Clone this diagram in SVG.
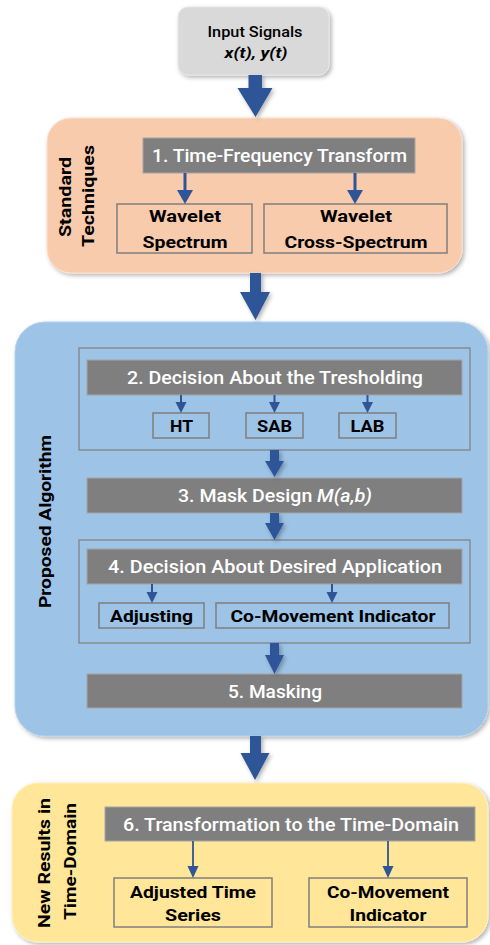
<svg xmlns="http://www.w3.org/2000/svg" width="490" height="945" viewBox="0 0 490 945">
<defs>
<filter id="sh" x="-10%" y="-10%" width="125%" height="125%">
<feDropShadow dx="2" dy="2" stdDeviation="2" flood-color="#000" flood-opacity="0.3"/>
</filter>
</defs>
<style>
.step{fill:#7F7F7F;stroke:#A6A6A6;stroke-width:1}
.wt{font-family:Roboto,"Liberation Sans",sans-serif;font-size:18px;font-weight:500;fill:#FFFFFF;text-anchor:middle}
.bt{font-family:Roboto,"Liberation Sans",sans-serif;font-size:17px;font-weight:bold;fill:#000;text-anchor:middle}
.lab{font-family:Roboto,"Liberation Sans",sans-serif;font-size:17px;font-weight:bold;fill:#000;text-anchor:middle}
.out{fill:none;stroke:#7F7F7F;stroke-width:1.5}
.grp{fill:none;stroke:#7F7F7F;stroke-width:1.2}
.arr{fill:#2F5597}
.ln{stroke:#2F5597;fill:none}
</style>

<!-- Input -->
<g id="input">
<rect x="178" y="7" width="151" height="68" rx="10" fill="#D9D9D9" stroke="#E6E6E6" filter="url(#sh)"/>
<text x="255" y="37" font-family="Roboto,'Liberation Sans',sans-serif" font-size="14" font-weight="500" text-anchor="middle" textLength="95" lengthAdjust="spacingAndGlyphs">Input Signals</text>
<text x="256" y="58" font-family="Roboto,'Liberation Sans',sans-serif" font-size="15" font-weight="bold" font-style="italic" text-anchor="middle" textLength="63" lengthAdjust="spacingAndGlyphs">x(t), y(t)</text>
</g>

<!-- Standard techniques panel -->
<g id="standard">
<rect x="47" y="118" width="415" height="155" rx="24" fill="#F8CBAD" stroke="#FBE0CF" filter="url(#sh)"/>
<text transform="translate(71,197) rotate(-90)" class="lab" textLength="80" lengthAdjust="spacingAndGlyphs">Standard</text>
<text transform="translate(94,196) rotate(-90)" class="lab" textLength="102" lengthAdjust="spacingAndGlyphs">Techniques</text>
</g>
<g id="step1">
<rect class="step" x="143" y="138" width="272" height="35"/>
<text class="wt" x="279.5" y="162" textLength="255" lengthAdjust="spacingAndGlyphs">1. Time-Frequency Transform</text>
</g>
<g id="wavelet-spectrum">
<rect class="out" x="117" y="204" width="135" height="49"/>
<text class="bt" x="185" y="222" textLength="72" lengthAdjust="spacingAndGlyphs">Wavelet</text>
<text class="bt" x="185" y="248" textLength="85" lengthAdjust="spacingAndGlyphs">Spectrum</text>
</g>
<g id="wavelet-cross">
<rect class="out" x="264" y="204" width="183" height="49"/>
<text class="bt" x="356" y="222" textLength="72" lengthAdjust="spacingAndGlyphs">Wavelet</text>
<text class="bt" x="356" y="248" textLength="143" lengthAdjust="spacingAndGlyphs">Cross-Spectrum</text>
</g>

<!-- Proposed algorithm panel -->
<g id="proposed">
<rect x="15" y="322" width="473" height="414" rx="30" fill="#9DC3E6" stroke="#B4D2EE" filter="url(#sh)"/>
<text transform="translate(51,521.5) rotate(-90)" class="lab" textLength="173" lengthAdjust="spacingAndGlyphs">Proposed Algorithm</text>
</g>
<g id="group2">
<rect class="grp" x="79" y="348" width="391" height="102"/>
</g>
<g id="step2">
<rect class="step" x="87" y="360" width="375" height="35"/>
<text class="wt" x="275" y="384" textLength="296" lengthAdjust="spacingAndGlyphs">2. Decision About the Tresholding</text>
</g>
<g id="ht">
<rect class="out" x="153" y="413" width="56" height="25"/>
<text class="bt" x="181.5" y="431.5" font-size="16" textLength="23" lengthAdjust="spacingAndGlyphs">HT</text>
</g>
<g id="sab">
<rect class="out" x="246" y="413" width="57" height="25"/>
<text class="bt" x="274.5" y="431.5" font-size="16" textLength="35" lengthAdjust="spacingAndGlyphs">SAB</text>
</g>
<g id="lab">
<rect class="out" x="339" y="413" width="57" height="25"/>
<text class="bt" x="367.5" y="431.5" font-size="16" textLength="34" lengthAdjust="spacingAndGlyphs">LAB</text>
</g>
<g id="step3">
<rect class="step" x="87" y="478" width="375" height="35"/>
<text class="wt" x="275" y="502" textLength="194" lengthAdjust="spacingAndGlyphs">3. Mask Design <tspan font-style="italic">M(a,b)</tspan></text>
</g>
<g id="group4">
<rect class="grp" x="79" y="540" width="391" height="103"/>
</g>
<g id="step4">
<rect class="step" x="87" y="549" width="375" height="35"/>
<text class="wt" x="275" y="573" textLength="334" lengthAdjust="spacingAndGlyphs">4. Decision About Desired Application</text>
</g>
<g id="adjusting">
<rect class="out" x="99" y="603" width="105" height="25"/>
<text class="bt" x="151.5" y="621.5" font-size="16" textLength="83" lengthAdjust="spacingAndGlyphs">Adjusting</text>
</g>
<g id="comovement">
<rect class="out" x="216" y="603" width="233" height="25"/>
<text class="bt" x="333" y="621.5" font-size="16" textLength="205" lengthAdjust="spacingAndGlyphs">Co-Movement Indicator</text>
</g>
<g id="step5">
<rect class="step" x="87" y="674" width="375" height="34"/>
<text class="wt" x="275" y="697.5" textLength="94" lengthAdjust="spacingAndGlyphs">5. Masking</text>
</g>

<!-- New results panel -->
<g id="results">
<rect x="12" y="783" width="476" height="159" rx="26" fill="#FFE699" stroke="#FFF0C2" filter="url(#sh)"/>
<text transform="translate(50,863) rotate(-90)" class="lab" textLength="130" lengthAdjust="spacingAndGlyphs">New Results in</text>
<text transform="translate(76,861.5) rotate(-90)" class="lab" textLength="117" lengthAdjust="spacingAndGlyphs">Time-Domain</text>
</g>
<g id="step6">
<rect class="step" x="105" y="807" width="370" height="34"/>
<text class="wt" x="291" y="830.5" textLength="336" lengthAdjust="spacingAndGlyphs">6. Transformation to the Time-Domain</text>
</g>
<g id="adjusted-series">
<rect class="out" x="114" y="878" width="158" height="49"/>
<text class="bt" x="193" y="898" textLength="126" lengthAdjust="spacingAndGlyphs">Adjusted Time</text>
<text class="bt" x="193" y="921" textLength="56" lengthAdjust="spacingAndGlyphs">Series</text>
</g>
<g id="comovement-out">
<rect class="out" x="309" y="878" width="158" height="49"/>
<text class="bt" x="388" y="898" textLength="122" lengthAdjust="spacingAndGlyphs">Co-Movement</text>
<text class="bt" x="388" y="921" textLength="77" lengthAdjust="spacingAndGlyphs">Indicator</text>
</g>

<!-- connectors -->
<g id="connectors">
<g filter="url(#sh)">
<polygon class="arr" points="248.5,75 262,75 262,88 272.5,88 255.5,117 237.5,88 248.5,88"/>
<polygon class="arr" points="250,273 261,273 261,292 270,292 255.5,320 240,292 250,292"/>
<polygon class="arr" points="250,736 261,736 261,753 269.5,753 255,780 240.5,753 250,753"/>
<polygon class="arr" points="270,450 279,450 279,461 284,461 274.5,477 265,461 270,461"/>
<polygon class="arr" points="270,513 279,513 279,523 284,523 274.5,540 265,523 270,523"/>
<polygon class="arr" points="270,643 279,643 279,655 284,655 274.5,674 265,655 270,655"/>
</g>
<path class="ln" d="M185,173V191 M355,173V191" stroke-width="3"/>
<polygon class="arr" points="177,190 193,190 185,204"/>
<polygon class="arr" points="347,190 363,190 355,204"/>
<path class="ln" d="M181,395V403 M274.5,395V403 M367.5,395V403" stroke-width="2"/>
<polygon class="arr" points="175.5,402 186.5,402 181,413"/>
<polygon class="arr" points="269,402 280,402 274.5,413"/>
<polygon class="arr" points="362,402 373,402 367.5,413"/>
<path class="ln" d="M152,584V593 M332,584V593" stroke-width="2"/>
<polygon class="arr" points="146.5,592 157.5,592 152,603"/>
<polygon class="arr" points="326.5,592 337.5,592 332,603"/>
<path class="ln" d="M193,841V867 M388,841V867" stroke-width="1.8"/>
<polygon class="arr" points="187.5,866 198.5,866 193,878"/>
<polygon class="arr" points="382.5,866 393.5,866 388,878"/>
</g>
</svg>
